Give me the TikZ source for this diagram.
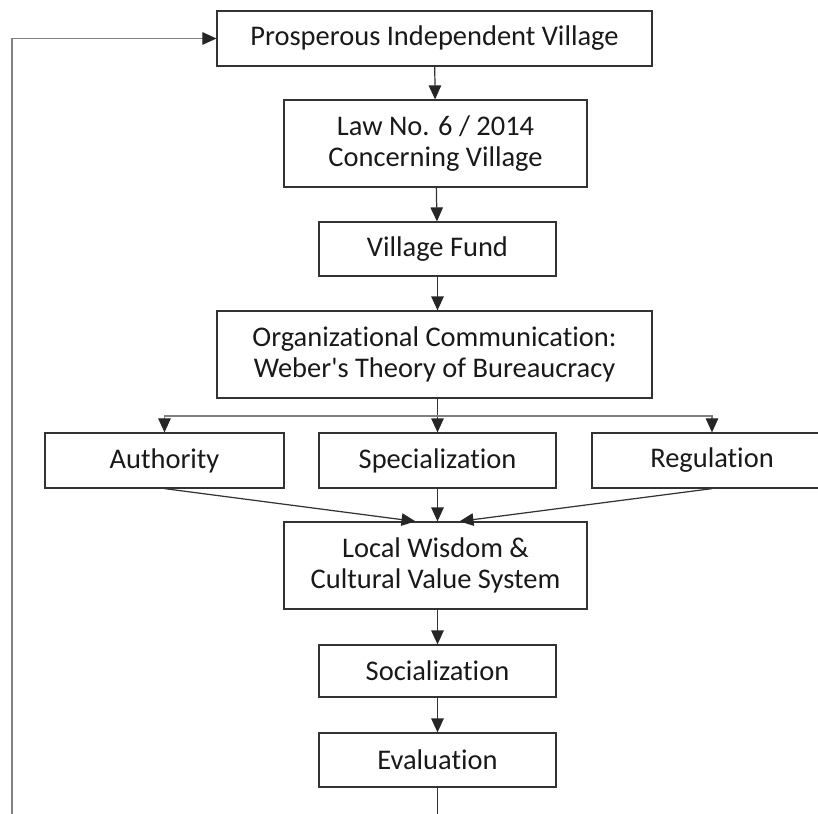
\documentclass[tikz,border=0pt]{standalone}
\usepackage{fontspec}
\setmainfont{Carlito}[Ligatures={ResetAll,NoCommon}]
\usetikzlibrary{calc,arrows.meta}

\begin{document}
\begin{tikzpicture}[x=0.02cm, y=-0.02cm,
		box/.style={draw=black!80, line width=0.7pt, inner sep=0pt, align=center,
			font=\fontsize{16.2}{17.6}\selectfont, text=black!90},
		flow/.style={draw=black!80, line width=0.7pt, -{Triangle[length=2.8mm, width=2.5mm, color=black!85]}},
		feed/.style={draw=black!50, line width=0.6pt, -{Triangle[length=2.8mm, width=2.5mm, color=black!85]}}]
		%%%%% START %%%%%
		
		\clip (0, 0) rectangle (818, 814);
		
		\node[box, minimum width=8.7cm, minimum height=1.1cm] (prosp) at (434.5, 38.5) {Prosperous Independent Village};
		\node[box, minimum width=6.06cm, minimum height=1.74cm] (law) at (435.5, 143.5) {Law No. 6 / 2014\\Concerning Village};
		\node[box, minimum width=4.74cm, minimum height=1.08cm] (fund) at (437.5, 249) {Village Fund};
		\node[box, minimum width=8.7cm, minimum height=1.74cm] (org) at (434.5, 354.5) {Organizational Communication:\\Weber\textquotesingle s Theory of Bureaucracy};
		
		\node[box, minimum width=4.78cm, minimum height=1.1cm] (auth) at (164.5, 460.5) {Authority};
		\node[box, minimum width=4.74cm, minimum height=1.1cm] (spec) at (437.5, 460.5) {Specialization};
		\node[box, minimum width=4.8cm, minimum height=1.1cm] (reg) at (712, 460.5) {Regulation};
		
		\node[box, minimum width=6.06cm, minimum height=1.74cm] (local) at (435.5, 565.5) {Local Wisdom \&\\Cultural Value System};
		\node[box, minimum width=4.74cm, minimum height=1.04cm] (soc) at (437.5, 671) {Socialization};
		\node[box, minimum width=4.74cm, minimum height=1.08cm] (eval) at (437.5, 760) {Evaluation};
		
		\draw[flow] (prosp) -- (law);
		\draw[flow] (law) -- (fund);
		\draw[flow] (fund.south) -- (fund.south |- org.north);
		\draw[flow] (org.south -| spec.north) -- (spec.north);
		
		\coordinate (fork) at (437.5, 416);
		\draw[feed] (fork) -| (auth.north);
		\draw[feed] (fork) -| (reg.north);
		
		\draw[flow] (auth.south) -- ($(local.north)+(-20, 0)$);
		\draw[flow] (spec.south) -- (spec.south |- local.north);
		\draw[flow] (reg.south) -- ($(local.north)+(24, 0)$);
		
		\draw[flow] (local.south -| soc.north) -- (soc.north);
		\draw[flow] (soc) -- (eval);
		
		\coordinate (loopend) at (437.5, 830);
		\coordinate (loopcorner) at (12, 830);
		\draw[flow, -] (eval.south) -- (loopend);
		\draw[feed] (loopcorner) |- (prosp.west);
		
		%%%%% END %%%%%
	\end{tikzpicture}
\end{document}
